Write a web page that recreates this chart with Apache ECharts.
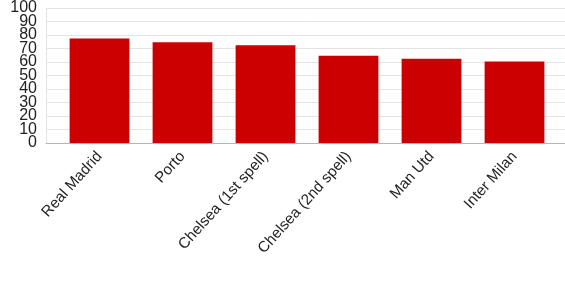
<!DOCTYPE html>
<html><head><meta charset="utf-8">
<script src="https://cdn.jsdelivr.net/npm/echarts@6/dist/echarts.min.js"></script>
<style>html,body{margin:0;padding:0;background:#fff}#c{width:565px;height:282px}</style>
</head><body><div id="c"></div>
<script>
const categories = ["Real Madrid","Porto","Chelsea (1st spell)","Chelsea (2nd spell)","Man Utd","Inter Milan"];
const values = [76.8, 74.0, 71.8, 64.2, 62.0, 59.9];
const yTicks = {min:0, max:100, interval:10};

const labelStyle = {fontSize:16, color:'#222', margin:9, showMinLabel:true, showMaxLabel:true, hideOverlap:false};
const chart = echarts.init(document.getElementById('c'), null, {renderer:'canvas'});
chart.setOption({
  animation:false,
  textStyle:{fontFamily:'"Liberation Sans", Arial, sans-serif'},
  grid:[
    {left:46, right:0, top:7, bottom:139, containLabel:false},
    {left:58, right:9, top:7, bottom:139, containLabel:false}
  ],
  xAxis:[
    {gridIndex:0, type:'value', min:0, max:1, axisLine:{show:true, onZero:false, lineStyle:{color:'#b5b5b5', width:1}}, axisTick:{show:false}, axisLabel:{show:false}, splitLine:{show:false}},
    {gridIndex:1, type:'category', data:categories, boundaryGap:true,
     axisLine:{show:false}, axisTick:{show:false},
     axisLabel:{rotate:48, fontSize:15.2, color:'#222', margin:11, interval:0}}
  ],
  yAxis:[
    {gridIndex:0, type:'value', position:'left', min:yTicks.min, max:yTicks.max, interval:yTicks.interval*2,
     axisLine:{show:true, lineStyle:{color:'#e3e3e3'}}, axisTick:{show:false},
     axisLabel:labelStyle,
     splitLine:{show:false}},
    {gridIndex:0, type:'value', position:'left', offset:0, min:yTicks.min, max:yTicks.max, interval:yTicks.interval,
     axisLine:{show:false}, axisTick:{show:false},
     axisLabel:Object.assign({}, labelStyle, {formatter: v => (v % 20 === 10 ? String(v) : '')}),
     splitLine:{show:true, lineStyle:{color:'#e3e3e3', width:1}}},
    {gridIndex:1, type:'value', min:yTicks.min, max:yTicks.max, show:false}
  ],
  series:[{
    type:'bar', xAxisIndex:1, yAxisIndex:2, data:values,
    barCategoryGap:'28%',
    itemStyle:{color:'#cc0000'}
  }]
});
</script></body></html>
